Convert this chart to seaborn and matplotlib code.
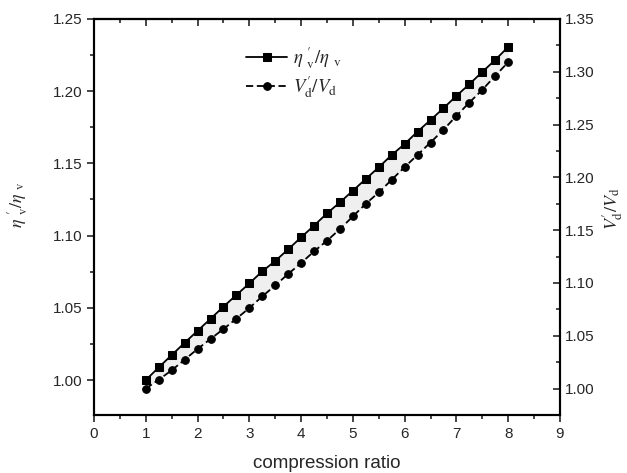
import numpy as np
import pandas as pd
import matplotlib
matplotlib.use("Agg")
import matplotlib.pyplot as plt
from matplotlib.ticker import MultipleLocator
import seaborn as sns

# -- Datos ----------------------------------------------------------------------
ratio = [1.00, 1.25, 1.50, 1.75, 2.00, 2.25, 2.50, 2.75, 3.00, 3.25, 3.50, 3.75,
         4.00, 4.25, 4.50, 4.75, 5.00, 5.25, 5.50, 5.75, 6.00, 6.25, 6.50, 6.75,
         7.00, 7.25, 7.50, 7.75, 8.00]
eta_ratio = [1.0000, 1.0088, 1.0173, 1.0258, 1.0341, 1.0424, 1.0508, 1.0589,
             1.0669, 1.0753, 1.0824, 1.0905, 1.0988, 1.1069, 1.1154, 1.1230,
             1.1311, 1.1392, 1.1473, 1.1558, 1.1634, 1.1720, 1.1800, 1.1882,
             1.1967, 1.2048, 1.2133, 1.2216, 1.2306]
vd_ratio = [1.0000, 1.0085, 1.0173, 1.0274, 1.0375, 1.0470, 1.0564, 1.0662,
            1.0763, 1.0873, 1.0977, 1.1085, 1.1189, 1.1299, 1.1400, 1.1510,
            1.1630, 1.1750, 1.1857, 1.1977, 1.2097, 1.2213, 1.2330, 1.2450,
            1.2582, 1.2708, 1.2828, 1.2961, 1.3090]

df = pd.DataFrame({"ratio": ratio, "eta": eta_ratio, "vd": vd_ratio})

ETA_LABEL = r"$\eta\ {}^{\prime}_{\mathrm{v}}/\eta\ {}_{\mathrm{v}}$"
VD_LABEL = r"$V^{\prime}_{\mathrm{d}}/V_{\mathrm{d}}$"

sns.set_style("white")
plt.rcParams["font.family"] = ["Liberation Sans", "DejaVu Sans"]
plt.rcParams["mathtext.fontset"] = "stix"

fig = plt.figure(figsize=(6.27, 4.73), dpi=100)
ax = fig.add_axes([0.150, 0.1226, 0.743, 0.8374])
ax2 = ax.twinx()

# -- Limites y ticks -----------------------------------------------------------
ax.set_xlim(0, 9)
ax.set_ylim(0.9758, 1.25)
ax2.set_ylim(0.975, 1.35)

ax.xaxis.set_major_locator(MultipleLocator(1))
ax.xaxis.set_minor_locator(MultipleLocator(0.5))
ax.yaxis.set_major_locator(MultipleLocator(0.05))
ax.yaxis.set_minor_locator(MultipleLocator(0.025))
ax2.yaxis.set_major_locator(MultipleLocator(0.05))
ax2.yaxis.set_minor_locator(MultipleLocator(0.025))
ax.yaxis.set_major_formatter("{x:.2f}")
ax2.yaxis.set_major_formatter("{x:.2f}")

ax.tick_params(axis="both", which="major", direction="out", length=5, width=1.2,
               labelsize=11, left=True, bottom=True, right=False, top=False)
ax.tick_params(axis="both", which="minor", direction="out", length=3, width=1.2,
               left=True, bottom=True, right=False, top=False)
ax2.tick_params(axis="y", which="major", direction="in", length=5, width=1.2,
                labelsize=11, right=True, left=False)
ax2.tick_params(axis="y", which="minor", direction="in", length=3, width=1.2,
                right=True, left=False)

top = ax.secondary_xaxis("top")
top.xaxis.set_major_locator(MultipleLocator(1))
top.xaxis.set_minor_locator(MultipleLocator(0.5))
top.tick_params(which="major", direction="in", length=5, width=1.2, labeltop=False)
top.tick_params(which="minor", direction="in", length=3, width=1.2)

for a in (ax, ax2, top):
    for s in a.spines.values():
        s.set_linewidth(1.5)
        s.set_color("black")

# -- Series --------------------------------------------------------------------
sns.lineplot(data=df, x="ratio", y="eta", ax=ax, color="black", linewidth=1.3,
             marker="s", markersize=5.5, markeredgecolor="black", zorder=3,
             label=ETA_LABEL, legend=False)
sns.lineplot(data=df, x="ratio", y="vd", ax=ax2, color="black", linewidth=1.3,
             linestyle=(0, (4, 2)), marker="o", markersize=5.5,
             markeredgecolor="black", zorder=3, label=VD_LABEL, legend=False)

# sombreado entre ambas curvas (en coordenadas del eje izquierdo)
pts = ax2.transData.transform(np.column_stack([df["ratio"], df["vd"]]))
vd_left = ax.transData.inverted().transform(pts)[:, 1]
ax.fill_between(df["ratio"], df["eta"], vd_left, color="#efefef", zorder=1, lw=0)

ax.set_xlabel("compression ratio", fontsize=13.5, labelpad=10)
ax.set_ylabel(ETA_LABEL, fontsize=13)
ax.yaxis.set_label_coords(-0.137, 0.53)
ax2.set_ylabel(VD_LABEL, fontsize=13)
ax2.yaxis.set_label_coords(1.086, 0.52)

h1, l1 = ax.get_legend_handles_labels()
h2, l2 = ax2.get_legend_handles_labels()
leg = ax2.legend(h1 + h2, l1 + l2, loc="upper left", bbox_to_anchor=(0.29, 0.975),
                 frameon=False, fontsize=13.5, numpoints=1, handlelength=2.2,
                 handletextpad=0.3, labelspacing=0.15)

fig.savefig("out.png", dpi=100)
